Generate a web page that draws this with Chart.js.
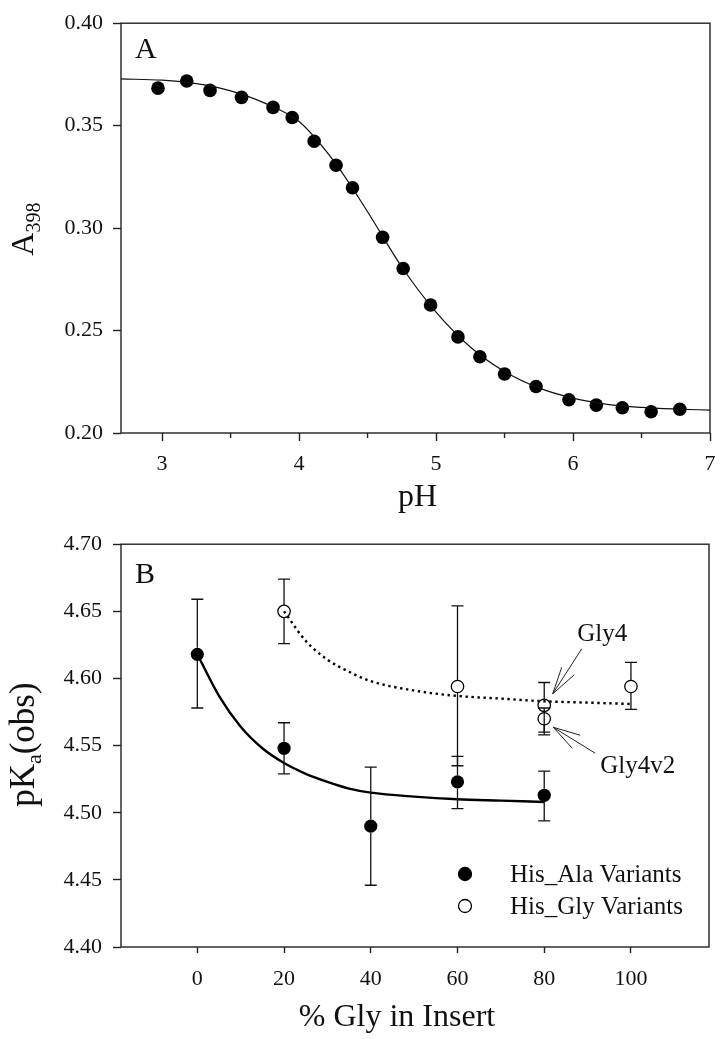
<!DOCTYPE html>
<html>
<head>
<meta charset="utf-8">
<script src="https://cdn.jsdelivr.net/npm/chart.js@4.4.1/dist/chart.umd.min.js"></script>
<style>
  body { margin: 0; background: #fff; width: 726px; height: 1039px; overflow: hidden; position: relative; }
  canvas { position: absolute; left: 0; }
  #chartA { top: 0; }
  #chartB { top: 520px; }
</style>
</head>
<body>
<canvas id="chartA" width="726" height="520"></canvas>
<canvas id="chartB" width="726" height="519"></canvas>
<script>
// Panel A - titration
const phValues  = [2.97, 3.18, 3.35, 3.58, 3.81, 3.95, 4.11, 4.27, 4.39, 4.61, 4.76, 4.96, 5.16, 5.32, 5.50, 5.73, 5.97, 6.17, 6.36, 6.57, 6.78];
const absValues = [0.3683, 0.3718, 0.3672, 0.3638, 0.3589, 0.3540, 0.3424, 0.3307, 0.3197, 0.2955, 0.2803, 0.2625, 0.2469, 0.2372, 0.2288, 0.2227, 0.2162, 0.2136, 0.2123, 0.2104, 0.2116];
const phFitX  = [2.7, 3.0, 3.25, 3.5, 3.75, 4.0, 4.25, 4.5, 4.75, 5.0, 5.25, 5.5, 5.75, 6.0, 6.25, 6.5, 6.75, 7.0];
const absFitY = [0.3728, 0.3722, 0.3705, 0.3670, 0.3610, 0.3520, 0.3330, 0.3080, 0.2810, 0.2590, 0.2420, 0.2300, 0.2220, 0.2170, 0.2140, 0.2125, 0.2117, 0.2112];
const phTicks = [3, 4, 5, 6, 7];
const phMinorTicks = [3.5, 4.5, 5.5, 6.5];
const absTicks = [0.20, 0.25, 0.30, 0.35, 0.40];

// Panel B - pKa vs % Gly
const alaPct  = [0, 20, 40, 60, 80];
const alaPka  = [4.618, 4.548, 4.490, 4.523, 4.513];
const alaLow  = [4.578, 4.529, 4.446, 4.503, 4.494];
const alaHigh = [4.659, 4.567, 4.534, 4.542, 4.531];
const glyPct  = [20, 60, 80, 80, 100];
const glyPka  = [4.650, 4.594, 4.580, 4.570, 4.594];
const glyLow  = [4.626, 4.535, 4.560, 4.558, 4.577];
const glyHigh = [4.674, 4.654, 4.597, 4.578, 4.612];
const alaFitX = [0, 5, 10, 15, 20, 25, 30, 35, 40, 50, 60, 70, 80];
const alaFitY = [4.618, 4.587, 4.564, 4.548, 4.537, 4.529, 4.523, 4.518, 4.515, 4.512, 4.510, 4.509, 4.508];
const glyFitX = [20, 25, 30, 35, 40, 50, 60, 70, 80, 90, 100];
const glyFitY = [4.650, 4.628, 4.614, 4.605, 4.598, 4.591, 4.587, 4.585, 4.583, 4.582, 4.581];
const pctTicks = [0, 20, 40, 60, 80, 100];
const pkaTicks = [4.40, 4.45, 4.50, 4.55, 4.60, 4.65, 4.70];
const seriesNames = ['His_Ala Variants', 'His_Gly Variants'];

const FONT = '"Liberation Serif", "DejaVu Serif", serif';
const INK = '#111';

function pts(xs, ys) {
    return xs.map((x, i) => ({ x: x, y: ys[i] }));
}

// shared axis setup
function axis(min, max, tickVals, tickLen, pad, fit, fmt) {
    return {
        type: 'linear',
        min: min,
        max: max,
        afterBuildTicks: s => { s.ticks = tickVals.map(v => ({ value: v })); },
        afterFit: fit,
        grid: { drawOnChartArea: false, tickLength: tickLen, tickColor: '#222', tickWidth: 1.4 },
        border: { display: false },
        ticks: { autoSkip: false, maxRotation: 0, padding: pad, color: INK, font: { family: FONT, size: 22 }, callback: fmt }
    };
}

// frame, minor ticks, titles
const frameA = {
    id: 'frameA',
    afterDraw(chart) {
        const { ctx, chartArea: a, scales: { x } } = chart;
        ctx.save();
        ctx.strokeStyle = '#222';
        ctx.lineWidth = 1.4;
        ctx.strokeRect(a.left, a.top, a.right - a.left, a.bottom - a.top);
        ctx.beginPath();
        phMinorTicks.forEach(v => {
            const px = x.getPixelForValue(v);
            ctx.moveTo(px, a.bottom);
            ctx.lineTo(px, a.bottom + 5);
        });
        ctx.stroke();

        ctx.fillStyle = INK;
        ctx.font = '30px ' + FONT;
        ctx.textBaseline = 'alphabetic';
        ctx.fillText('A', 135, 58);

        ctx.font = '32px ' + FONT;
        ctx.textAlign = 'center';
        ctx.fillText('pH', (a.left + a.right) / 2 + 2, 506);

        // rotated A398
        ctx.textAlign = 'left';
        const cy = (a.top + a.bottom) / 2 + 1;
        ctx.font = '32px ' + FONT;
        const wA = ctx.measureText('A').width;
        ctx.font = '20px ' + FONT;
        const wS = ctx.measureText('398').width;
        ctx.translate(33, cy + (wA + wS) / 2);
        ctx.rotate(-Math.PI / 2);
        ctx.font = '32px ' + FONT;
        ctx.fillText('A', 0, 0);
        ctx.font = '20px ' + FONT;
        ctx.fillText('398', wA, 7);
        ctx.restore();
    }
};

const notes = [
    { text: 'Gly4', at: [80, 4.580], txt: [33, -64], tail: [37.5, -56.5], tip: [8.5, -11.5], head: [[17.5, -38], [30, -30.5]] },
    { text: 'Gly4v2', at: [80, 4.570], txt: [56, 54.5], tail: [51, 34.5], tip: [9, 8.5], head: [[36, 16.5], [28, 29.5]] }
];

const errorBars = {
    id: 'errorBars',
    afterDatasetsDraw(chart) {
        const { ctx, scales: { x, y } } = chart;
        ctx.save();
        ctx.strokeStyle = INK;
        ctx.lineWidth = 1.3;
        chart.data.datasets.forEach(ds => {
            if (!ds.errLow) return;
            ds.data.forEach((p, i) => {
                const px = x.getPixelForValue(p.x);
                const py = y.getPixelForValue(p.y);
                const yl = y.getPixelForValue(ds.errLow[i]);
                const yh = y.getPixelForValue(ds.errHigh[i]);
                const r = ds.pointRadius;
                ctx.beginPath();
                if (yh < py - r) { ctx.moveTo(px, yh); ctx.lineTo(px, py - r); }
                if (yl > py + r) { ctx.moveTo(px, py + r); ctx.lineTo(px, yl); }
                ctx.moveTo(px - 6, yh); ctx.lineTo(px + 6, yh);
                ctx.moveTo(px - 6, yl); ctx.lineTo(px + 6, yl);
                ctx.stroke();
            });
        });
        ctx.restore();
    }
};

const frameB = {
    id: 'frameB',
    afterDraw(chart) {
        const { ctx, chartArea: a, scales: { x, y } } = chart;
        ctx.save();
        ctx.strokeStyle = '#222';
        ctx.lineWidth = 1.4;
        ctx.strokeRect(a.left, a.top, a.right - a.left, a.bottom - a.top);

        ctx.fillStyle = INK;
        ctx.font = '30px ' + FONT;
        ctx.fillText('B', 135, 63);

        // Gly4 / Gly4v2 callouts
        ctx.font = '25px ' + FONT;
        ctx.lineWidth = 1;
        notes.forEach(n => {
            const px = x.getPixelForValue(n.at[0]);
            const py = y.getPixelForValue(n.at[1]);
            ctx.fillText(n.text, px + n.txt[0], py + n.txt[1]);
            ctx.beginPath();
            ctx.moveTo(px + n.tail[0], py + n.tail[1]);
            ctx.lineTo(px + n.tip[0], py + n.tip[1]);
            n.head.forEach(h => {
                ctx.moveTo(px + n.tip[0], py + n.tip[1]);
                ctx.lineTo(px + h[0], py + h[1]);
            });
            ctx.stroke();
        });

        // legend
        const lx = 465;
        const rows = [354, 386];
        ctx.font = '25px ' + FONT;
        ctx.textBaseline = 'middle';
        rows.forEach((ly, i) => {
            ctx.beginPath();
            ctx.arc(lx, ly, 6.5, 0, Math.PI * 2);
            ctx.fillStyle = i === 0 ? '#000' : '#fff';
            ctx.fill();
            ctx.lineWidth = 1.3;
            ctx.strokeStyle = '#000';
            ctx.stroke();
            ctx.fillStyle = INK;
            ctx.fillText(seriesNames[i], 510, ly + 1);
        });

        // axis titles
        ctx.textBaseline = 'alphabetic';
        ctx.textAlign = 'center';
        ctx.font = '32px ' + FONT;
        ctx.fillText('% Gly in Insert', 397, 506);

        ctx.textAlign = 'left';
        const cy = (a.top + a.bottom) / 2 - 1;
        ctx.font = '35px ' + FONT;
        const w1 = ctx.measureText('pK').width;
        const w3 = ctx.measureText('(obs)').width;
        ctx.font = '22px ' + FONT;
        const w2 = ctx.measureText('a').width;
        ctx.translate(34, cy + (w1 + w2 + w3) / 2);
        ctx.rotate(-Math.PI / 2);
        ctx.font = '35px ' + FONT;
        ctx.fillText('pK', 0, 0);
        ctx.font = '22px ' + FONT;
        ctx.fillText('a', w1, 7);
        ctx.font = '35px ' + FONT;
        ctx.fillText('(obs)', w1 + w2, 0);
        ctx.restore();
    }
};

new Chart(document.getElementById('chartA'), {
    type: 'scatter',
    data: {
        datasets: [
            { data: pts(phFitX, absFitY), showLine: true, pointRadius: 0, borderColor: '#111', borderWidth: 1.2, cubicInterpolationMode: 'monotone', order: 0 },
            { data: pts(phValues, absValues), pointRadius: 6.8, backgroundColor: '#000', borderColor: '#000', borderWidth: 0, order: 1 }
        ]
    },
    options: {
        responsive: false,
        animation: false,
        events: [],
        layout: { padding: { top: 22, right: 16, left: 0, bottom: 0 } },
        plugins: { legend: { display: false }, tooltip: { enabled: false } },
        scales: {
            x: axis(2.7, 7, phTicks, 8, 10, s => { s.height = 87; }, v => v),
            y: axis(0.2, 0.4, absTicks, 8, 10, s => { s.width = 121; }, v => v.toFixed(2))
        }
    },
    plugins: [frameA]
});

new Chart(document.getElementById('chartB'), {
    type: 'scatter',
    data: {
        datasets: [
            { data: pts(alaFitX, alaFitY), showLine: true, pointRadius: 0, borderColor: '#000', borderWidth: 2.4, cubicInterpolationMode: 'monotone', order: 0 },
            { data: pts(glyFitX, glyFitY), showLine: true, pointRadius: 0, borderColor: '#000', borderWidth: 2.4, borderDash: [2.4, 3.6], cubicInterpolationMode: 'monotone', order: 0 },
            { data: pts(alaPct, alaPka), errLow: alaLow, errHigh: alaHigh, pointRadius: 6.6, backgroundColor: '#000', borderColor: '#000', borderWidth: 0, order: 1 },
            { data: pts(glyPct, glyPka), errLow: glyLow, errHigh: glyHigh, pointRadius: 6.2, backgroundColor: '#fff', borderColor: '#000', borderWidth: 1.3, order: 1 }
        ]
    },
    options: {
        responsive: false,
        animation: false,
        events: [],
        layout: { padding: { top: 15, right: 17, left: 0, bottom: 0 } },
        plugins: { legend: { display: false }, tooltip: { enabled: false } },
        scales: {
            x: axis(-17.6, 118, pctTicks, 6, 13, s => { s.height = 92; }, v => v),
            y: axis(4.4, 4.7, pkaTicks, 8, 11, s => { s.width = 121; }, v => v.toFixed(2))
        }
    },
    plugins: [errorBars, frameB]
});
</script>
</body>
</html>
